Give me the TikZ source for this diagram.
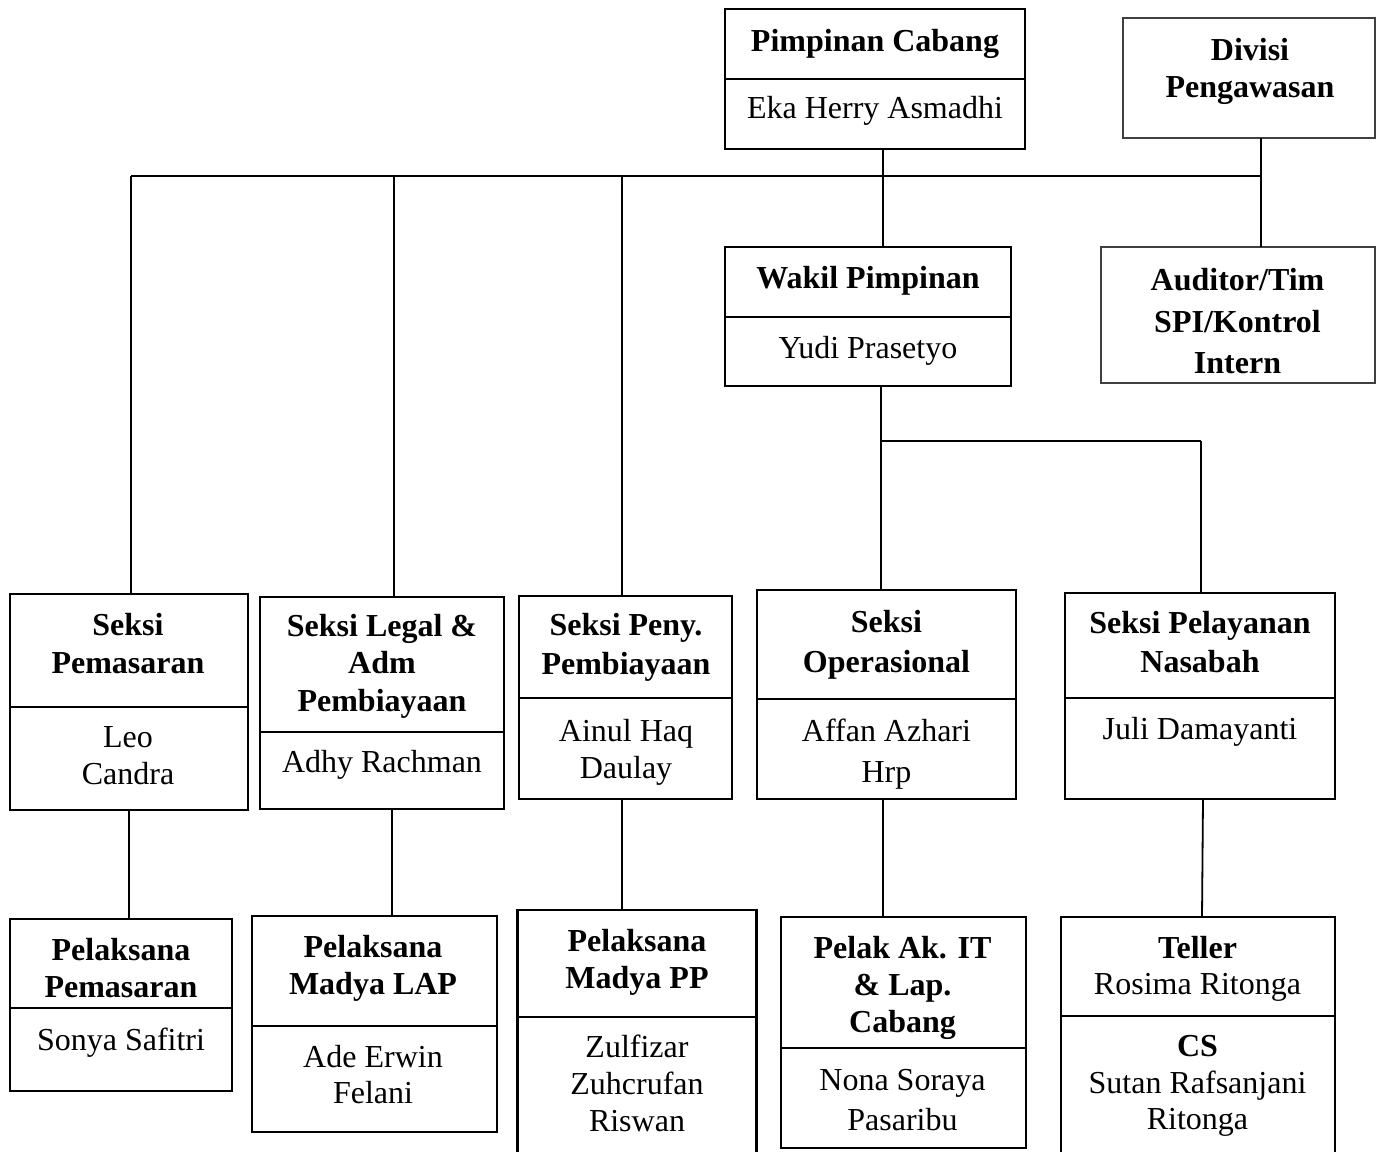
\documentclass[tikz,border=0pt]{standalone}
\usepackage{fontspec}
\setmainfont{Liberation Serif}
\begin{document}
\begin{tikzpicture}[x=1pt,y=-1pt,
  box/.style={draw=black, line width=2.4pt, inner sep=0pt, outer sep=0pt},
  thinbox/.style={draw=black!75, line width=1.3pt, inner sep=0pt, outer sep=0pt},
  divline/.style={line width=2.4pt},
  conn/.style={line width=1.8pt},
  txt/.style={anchor=base, inner sep=0pt, font=\fontsize{32}{37}\selectfont},
  txtb/.style={anchor=base, inner sep=0pt, font=\fontsize{32}{37}\selectfont\bfseries}]
\clip (0,0) rectangle (1381,1151);
\fill[white] (0,0) rectangle (1381,1151);

% boxes
\node[box, minimum width=300, minimum height=140] (pc) at (875,79) {};
\node[thinbox, minimum width=252, minimum height=120] (dp) at (1249,78) {};
\node[thinbox, minimum width=274, minimum height=136] (au) at (1238,315) {};
\node[box, minimum width=286, minimum height=139] (wp) at (868,316.5) {};
\node[box, minimum width=238, minimum height=216] (sp) at (129,702) {};
\node[box, minimum width=244, minimum height=212] (sl) at (382,703) {};
\node[box, minimum width=213, minimum height=203] (sy) at (625.5,697.5) {};
\node[box, minimum width=259, minimum height=209] (so) at (886.5,694.5) {};
\node[box, minimum width=270, minimum height=206] (sn) at (1200,696) {};
\node[box, minimum width=222, minimum height=172] (pp) at (121,1005) {};
\node[box, minimum width=245, minimum height=216] (pl) at (374.5,1024) {};
\node[box, minimum width=239, minimum height=255] (pm) at (637,1037.5) {};
\node[box, minimum width=245, minimum height=231] (pi) at (903.5,1032.5) {};
\node[box, minimum width=274, minimum height=250] (te) at (1198,1042) {};

% dividers
\foreach \b/\d in {pc/70, wp/70, sp/113, sl/135, sy/102, so/109, sn/105, pp/89, pl/110, pm/107, pi/131, te/99}{
  \draw[divline] ([yshift=-\d pt]\b.north west) -- ([yshift=-\d pt]\b.north east);
}

% connectors
\coordinate (hl) at (131,176);
\coordinate (h2) at (394,176);
\coordinate (h3) at (622,176);
\coordinate (hr) at (1261,176);
\coordinate (j1) at (881,441);
\coordinate (j2) at (1201,441);
\draw[conn] (hl) -- (hr);
\draw[conn] ([xshift=8pt]pc.south) -- ([xshift=15pt]wp.north);
\draw[conn] ([xshift=12pt]dp.south) -- ([xshift=23pt]au.north);
\draw[conn] (hl) -- ([xshift=2pt]sp.north);
\draw[conn] (h2) -- ([xshift=12pt]sl.north);
\draw[conn] (h3) -- ([xshift=-3.5pt]sy.north);
\draw[conn] ([xshift=13pt]wp.south) -- (j1) -- (j2);
\draw[conn] (j1) -- ([xshift=-5.5pt]so.north);
\draw[conn] (j2) -- ([xshift=1pt]sn.north);
\draw[conn] (sp.south) -- ([xshift=8pt]pp.north);
\draw[conn] ([xshift=10pt]sl.south) -- ([xshift=17.5pt]pl.north);
\draw[conn] ([xshift=-3.5pt]sy.south) -- ([xshift=-15pt]pm.north);
\draw[conn] ([xshift=-3.5pt]so.south) -- ([xshift=-20.5pt]pi.north);
\draw[conn] ([xshift=3pt]sn.south) -- ([xshift=4pt]te.north);

% texts
\node[txtb] (t1) at (875,51) {Pimpinan Cabang};
\node[txt]  (t2) at (875,118) {Eka Herry Asmadhi};
\node[txtb] (t3) at (1250,60) {Divisi};
\node[txtb] (t4) at (1250,97) {Pengawasan};
\node[txtb] (t5) at (1237.5,290) {Auditor/Tim};
\node[txtb] (t6) at (1237.5,332) {SPI/Kontrol};
\node[txtb] (t7) at (1237.5,373) {Intern};
\node[txtb] (t8) at (868,288) {Wakil Pimpinan};
\node[txt]  (t9) at (868,358) {Yudi Prasetyo};

\node[txtb] (s1) at (128,635) {Seksi};
\node[txtb] (s2) at (128,673) {Pemasaran};
\node[txt]  (s3) at (128,747) {Leo};
\node[txt]  (s4) at (128,784) {Candra};

\node[txtb] (l1) at (382,636) {Seksi Legal \&};
\node[txtb] (l2) at (382,673) {Adm};
\node[txtb] (l3) at (382,711) {Pembiayaan};
\node[txt]  (l4) at (382,772) {Adhy Rachman};

\node[txtb] (y1) at (626,635) {Seksi Peny.};
\node[txtb] (y2) at (626,674) {Pembiayaan};
\node[txt]  (y3) at (626,741) {Ainul Haq};
\node[txt]  (y4) at (626,778) {Daulay};

\node[txtb] (o1) at (886.5,632) {Seksi};
\node[txtb] (o2) at (886.5,672) {Operasional};
\node[txt]  (o3) at (886.5,741) {Affan Azhari};
\node[txt]  (o4) at (886.5,782) {Hrp};

\node[txtb] (n1) at (1200,633) {Seksi Pelayanan};
\node[txtb] (n2) at (1200,672) {Nasabah};
\node[txt]  (n3) at (1200,739) {Juli Damayanti};

\node[txtb] (p1) at (121,960) {Pelaksana};
\node[txtb] (p2) at (121,997) {Pemasaran};
\node[txt]  (p3) at (121,1050) {Sonya Safitri};

\node[txtb] (a1) at (373,957) {Pelaksana};
\node[txtb] (a2) at (373,994) {Madya LAP};
\node[txt]  (a3) at (373,1067) {Ade Erwin};
\node[txt]  (a4) at (373,1103) {Felani};

\node[txtb] (m1) at (637,951) {Pelaksana};
\node[txtb] (m2) at (637,988) {Madya PP};
\node[txt]  (m3) at (637,1057) {Zulfizar};
\node[txt]  (m4) at (637,1094) {Zuhcrufan};
\node[txt]  (m5) at (637,1131) {Riswan};

\node[txtb] (i1) at (902.5,958) {Pelak Ak. IT};
\node[txtb] (i2) at (902.5,995) {\& Lap.};
\node[txtb] (i3) at (902.5,1032) {Cabang};
\node[txt]  (i4) at (902.5,1090) {Nona Soraya};
\node[txt]  (i5) at (902.5,1130) {Pasaribu};

\node[txtb] (e1) at (1197.5,958) {Teller};
\node[txt]  (e2) at (1197.5,994) {Rosima Ritonga};
\node[txtb] (e3) at (1197.5,1056) {CS};
\node[txt]  (e4) at (1197.5,1093) {Sutan Rafsanjani};
\node[txt]  (e5) at (1197.5,1129) {Ritonga};
\end{tikzpicture}
\end{document}
